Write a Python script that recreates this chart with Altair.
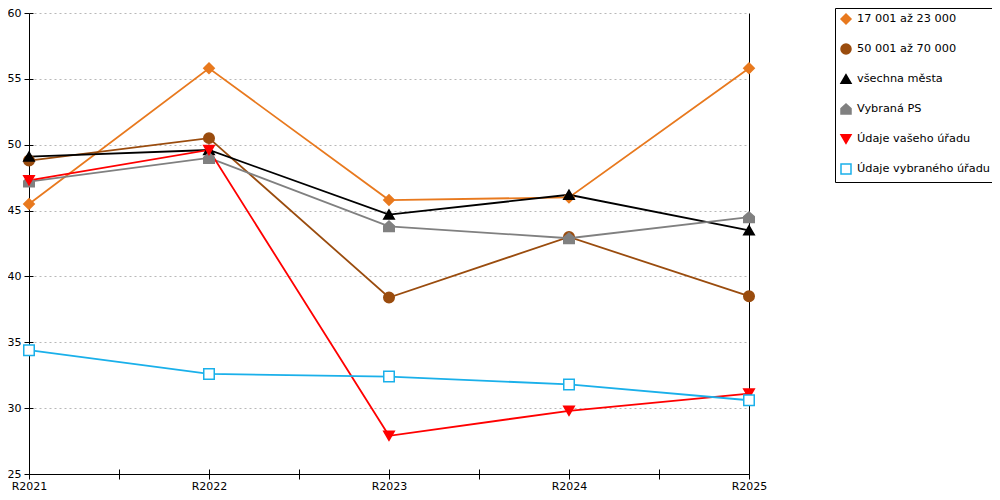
import altair as alt
import pandas as pd

categories = ["R2021", "R2022", "R2023", "R2024", "R2025"]
series_names = ["17 001 až 23 000", "50 001 až 70 000", "všechna města",
                "Vybraná PS", "Údaje vašeho úřadu", "Údaje vybraného úřadu"]
s_orange = [45.5, 55.8, 45.8, 46.0, 55.8]
s_brown = [48.8, 50.5, 38.4, 43.0, 38.5]
s_black = [49.1, 49.6, 44.7, 46.2, 43.5]
s_gray = [47.2, 49.0, 43.8, 42.9, 44.5]
s_red = [47.3, 49.6, 27.9, 29.8, 31.1]
s_cyan = [34.4, 32.6, 32.4, 31.8, 30.6]
all_values = [s_orange, s_brown, s_black, s_gray, s_red, s_cyan]

line_colors = ["#E8791E", "#9A4C0E", "#000000", "#808080", "#FF0000", "#1AB0EA"]
fill_colors = ["#E8791E", "#9A4C0E", "#000000", "#808080", "#FF0000", "#FFFFFF"]
house = "M-1,1L-1,-0.1L0,-1L1,-0.1L1,1Z"
shapes = ["diamond", "circle", "triangle-up", house, "triangle-down", "square"]

rows = []
for k, (name, vals) in enumerate(zip(series_names, all_values)):
    for i, v in enumerate(vals):
        rows.append({"series": name, "idx": i, "value": v, "lc": line_colors[k], "ord": k})
df = pd.DataFrame(rows)

label_arr = "[" + ",".join("'" + c + "'" for c in categories) + "]"
label_expr = "datum.value % 1 === 0 ? " + label_arr + "[datum.value] : ''"
tick_vals = [i * 0.5 for i in range(2 * len(categories) - 1)]
y_vals = list(range(25, 61, 5))

xscale = alt.Scale(domain=[0, len(categories) - 1], nice=False, zero=False)
yscale = alt.Scale(domain=[25, 60], nice=False, zero=False)

legend = alt.Legend(title=None, orient="none", legendX=806, legendY=-5)

base = alt.Chart(df)

lines = base.mark_line(strokeWidth=1.8).encode(
    x=alt.X("idx:Q", scale=xscale, axis=alt.Axis(
        values=tick_vals, title=None, grid=False, tickSize=5, tickColor="black",
        domainColor="black", labelPadding=1, labelFlush=False, labelExpr=label_expr)),
    y=alt.Y("value:Q", scale=yscale, axis=alt.Axis(
        values=y_vals, title=None, grid=True, gridDash=[2, 3], gridColor="#b8b8b8",
        tickSize=5, tickColor="black", domainColor="black", labelPadding=3)),
    stroke=alt.Stroke("lc:N", scale=None),
    detail="series:N",
    order="ord:Q",
)

points = base.mark_point(size=110, opacity=1, strokeWidth=1.5).encode(
    x=alt.X("idx:Q", scale=xscale, axis=alt.Axis(
        orient="bottom", offset=-5, values=tick_vals, labels=False, domain=False,
        grid=False, tickSize=5, tickColor="black", title=None)),
    y=alt.Y("value:Q", scale=yscale, axis=alt.Axis(
        orient="left", offset=-4, values=y_vals, labels=False, domain=False,
        grid=False, tickSize=4, tickColor="black", title=None)),
    shape=alt.Shape("series:N", scale=alt.Scale(domain=series_names, range=shapes), legend=legend),
    stroke=alt.Stroke("series:N", scale=alt.Scale(domain=series_names, range=line_colors), legend=legend),
    fill=alt.Fill("series:N", scale=alt.Scale(domain=series_names, range=fill_colors), legend=legend),
)

right = base.mark_point(opacity=0).encode(
    x=alt.X("idx:Q", scale=xscale, axis=None),
    y=alt.Y("value:Q", scale=yscale, axis=alt.Axis(
        orient="right", labels=False, ticks=False, grid=False, domainColor="black", title=None)),
)

chart = alt.layer(lines, points, right).resolve_axis(
    x="independent", y="independent"
).properties(
    width=720, height=461,
    autosize=alt.AutoSizeParams(type="none"),
    padding={"left": 21, "top": 5, "right": 243, "bottom": 18},
).configure_view(stroke=None).configure_axis(
    labelFont="DejaVu Sans", labelFontSize=11, labelColor="black"
).configure_legend(
    strokeColor="black", strokeWidth=1, fillColor="white", padding=5,
    labelFont="DejaVu Sans", labelFontSize=11.3, labelColor="black",
    symbolSize=100, symbolStrokeWidth=1.5, rowPadding=14, labelOffset=5,
    cornerRadius=0,
)

chart.save("out.html", embed_options={"renderer": "svg", "actions": False})
